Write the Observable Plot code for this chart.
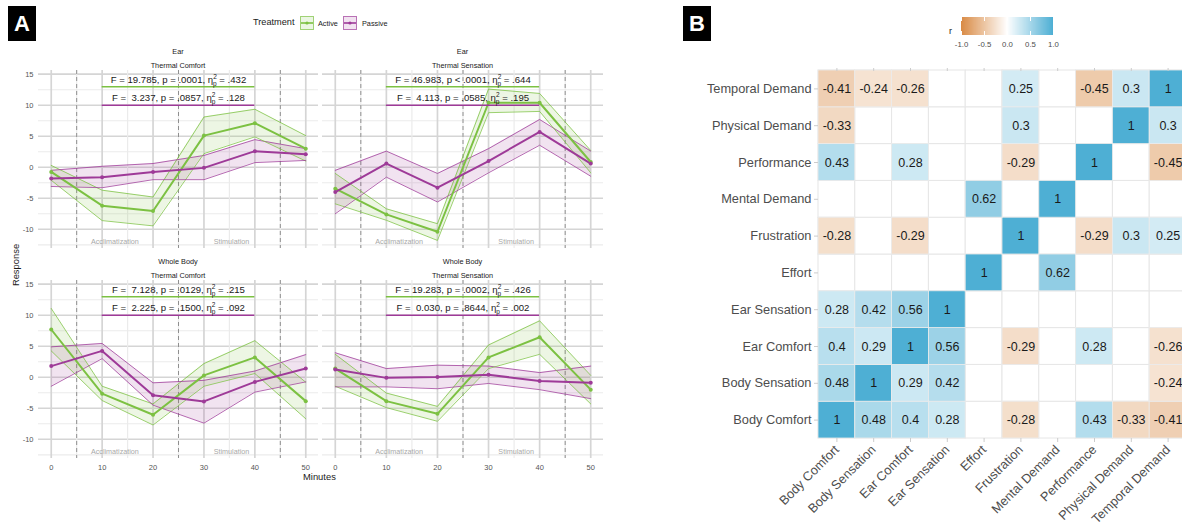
<!DOCTYPE html>
<html><head><meta charset="utf-8">
<script src="https://cdn.jsdelivr.net/npm/d3@7"></script>
<script src="https://cdn.jsdelivr.net/npm/@observablehq/plot@0.6"></script>
<style>
body{margin:0;background:#fff;overflow:hidden;font-family:"Liberation Sans",Arial,sans-serif}
#root{position:relative;width:1182px;height:527px;overflow:hidden;background:#fff}
.abs{position:absolute;white-space:nowrap}
#root text{white-space:pre}
.tag{position:absolute;background:#000;color:#fff;font-weight:bold;font-size:22px;display:flex;align-items:center;justify-content:center}
.strip{position:absolute;font-size:7.3px;color:#1a1a1a;transform:translate(-50%,-50%);white-space:nowrap}
</style></head><body><div id="root"></div>
<script>
// ---------- Panel A data ----------
const minutes = [0, 10, 20, 30, 40, 50];
const treatments = ["Active", "Passive"];
const facetRegion = ["Ear", "Ear", "Whole Body", "Whole Body"];
const facetMeasure = ["Thermal Comfort", "Thermal Sensation", "Thermal Comfort", "Thermal Sensation"];
const phaseLabels = ["Acclimatization", "Stimulation"];
const phaseCenters = [12.5, 35.4];
const phaseBreaks = [5, 25, 45];
const yMajor = [-10, -5, 0, 5, 10, 15];
const yMinor = [-12.5, -7.5, -2.5, 2.5, 7.5, 12.5];
const xMajor = [0, 10, 20, 30, 40, 50];
const xMinor = [5, 15, 25, 35, 45];

// Ear – Thermal Comfort
const etcActiveMean = [-0.75, -6.2, -7.05, 5.1, 7.1, 3.0];
const etcActiveLo   = [-2.1, -8.6, -9.45, 2.2, 4.9, 1.0];
const etcActiveHi   = [0.3, -3.7, -4.8, 8.1, 9.35, 5.1];
const etcPassiveMean = [-1.8, -1.6, -0.75, -0.1, 2.6, 2.1];
const etcPassiveLo   = [-3.1, -3.3, -2.0, -2.0, 0.75, 1.1];
const etcPassiveHi   = [-0.5, 0.15, 0.6, 1.9, 4.45, 3.0];
// Ear – Thermal Sensation
const etsActiveMean = [-3.45, -7.6, -10.4, 10.4, 10.4, 0.85];
const etsActiveLo   = [-5.9, -8.55, -11.8, 8.8, 9.0, -0.9];
const etsActiveHi   = [-1.0, -6.7, -9.1, 12.6, 11.9, 2.7];
const etsPassiveMean = [-4.0, 0.6, -3.3, 1.0, 5.7, 0.6];
const etsPassiveLo   = [-7.5, -1.6, -5.6, -0.9, 3.55, -1.45];
const etsPassiveHi   = [-0.5, 2.6, -1.0, 3.0, 7.7, 2.6];
// Whole Body – Thermal Comfort
const wtcActiveMean = [7.7, -2.65, -6.05, 0.3, 3.2, -3.85];
const wtcActiveLo   = [4.25, -3.75, -7.7, -1.45, 0.6, -6.7];
const wtcActiveHi   = [11.1, -1.45, -4.3, 2.2, 5.9, -0.8];
const wtcPassiveMean = [1.8, 4.25, -2.9, -3.9, -0.75, 1.4];
const wtcPassiveLo   = [-1.45, 3.0, -4.5, -7.4, -2.4, -0.75];
const wtcPassiveHi   = [4.9, 5.45, -0.9, -0.5, 1.0, 3.65];
// Whole Body – Thermal Sensation
const wtsActiveMean = [1.4, -3.85, -5.9, 3.2, 6.45, -2.0];
const wtsActiveLo   = [-1.45, -4.9, -7.1, 1.4, 3.7, -4.3];
const wtsActiveHi   = [3.7, -2.55, -4.7, 5.2, 9.1, 0.3];
const wtsPassiveMean = [1.25, -0.1, 0.05, 0.4, -0.6, -0.9];
const wtsPassiveLo   = [-1.55, -1.55, -1.85, -1.0, -2.0, -3.45];
const wtsPassiveHi   = [3.95, 1.4, 1.95, 1.8, 0.75, 1.8];

const activeStats = ["F = 19.785, p = .0001, ηₚ² = .432", "F = 46.983, p < .0001, ηₚ² = .644", "F =  7.128, p = .0129, ηₚ² = .215", "F = 19.283, p = .0002, ηₚ² = .426"];
const passiveStats = ["F =  3.237, p = .0857, ηₚ² = .128", "F =  4.113, p = .0585, ηₚ² = .195", "F =  2.225, p = .1500, ηₚ² = .092", "F =  0.030, p = .8644, ηₚ² = .002"];
const statLineY = [13, 10];
const statSpan = [10, 40];

// ---------- Panel B data ----------
const corrVars = ["Body Comfort", "Body Sensation", "Ear Comfort", "Ear Sensation", "Effort", "Frustration", "Mental Demand", "Performance", "Physical Demand", "Temporal Demand"];
const corrBodyComfort    = [1, 0.48, 0.4, 0.28, null, -0.28, null, 0.43, -0.33, -0.41];
const corrBodySensation  = [0.48, 1, 0.29, 0.42, null, null, null, null, null, -0.24];
const corrEarComfort     = [0.4, 0.29, 1, 0.56, null, -0.29, null, 0.28, null, -0.26];
const corrEarSensation   = [0.28, 0.42, 0.56, 1, null, null, null, null, null, null];
const corrEffort         = [null, null, null, null, 1, null, 0.62, null, null, null];
const corrFrustration    = [-0.28, null, -0.29, null, null, 1, null, -0.29, 0.3, 0.25];
const corrMentalDemand   = [null, null, null, null, 0.62, null, 1, null, null, null];
const corrPerformance    = [0.43, null, 0.28, null, null, -0.29, null, 1, null, -0.45];
const corrPhysicalDemand = [-0.33, null, null, null, null, 0.3, null, null, 1, 0.3];
const corrTemporalDemand = [-0.41, -0.24, -0.26, null, null, 0.25, null, -0.45, 0.3, 1];
const legendTicks = [-1, -0.5, 0, 0.5, 1];

// ---------- build ----------
const GREEN = "#7cc142", MAG = "#9e3a98";
const FONT = "Liberation Sans, Arial, sans-serif";
const root = document.getElementById("root");
const NS = "http://www.w3.org/2000/svg";

function place(el, left, top) {
  el.style.position = "absolute"; el.style.left = left + "px"; el.style.top = top + "px";
  root.appendChild(el); return el;
}
function html(txt, left, top, css) {
  const d = document.createElement("div"); d.className = "abs"; d.textContent = txt;
  Object.assign(d.style, css || {}); return place(d, left, top);
}
function fixEta(svg) {
  svg.querySelectorAll("text").forEach(t => {
    const s = t.textContent; const i = s.indexOf("η");
    if (i < 0) return;
    const pre = s.slice(0, i + 1), post = s.slice(i + 3);
    t.textContent = "";
    const add = (txt, attrs) => { const e = document.createElementNS(NS, "tspan"); e.textContent = txt; for (const k in attrs) e.setAttribute(k, attrs[k]); t.appendChild(e); };
    add(pre, {});
    add("2", {dy: "-4", "font-size": "6.5"});
    add("p", {dx: "-3.7", dy: "7", "font-size": "6.5"});
    add(post, {dy: "-3"});
  });
}

const facetData = [
  [etcActiveMean, etcActiveLo, etcActiveHi, etcPassiveMean, etcPassiveLo, etcPassiveHi],
  [etsActiveMean, etsActiveLo, etsActiveHi, etsPassiveMean, etsPassiveLo, etsPassiveHi],
  [wtcActiveMean, wtcActiveLo, wtcActiveHi, wtcPassiveMean, wtcPassiveLo, wtcPassiveHi],
  [wtsActiveMean, wtsActiveLo, wtsActiveHi, wtsPassiveMean, wtsPassiveLo, wtsPassiveHi]
];
const facetBox = [
  {left: 0, top: 70, width: 318, ml: 38, showY: true, showX: false},
  {left: 322, top: 70, width: 281, ml: 0, showY: false, showX: false},
  {left: 0, top: 280, width: 318, ml: 38, showY: true, showX: true},
  {left: 322, top: 280, width: 281, ml: 0, showY: false, showX: true}
];

facetData.forEach((fd, k) => {
  const b = facetBox[k];
  const rows = [];
  minutes.forEach((m, i) => {
    rows.push({m, trt: "Active", mean: fd[0][i], lo: fd[1][i], hi: fd[2][i]});
    rows.push({m, trt: "Passive", mean: fd[3][i], lo: fd[4][i], hi: fd[5][i]});
  });
  const stats = [
    {trt: "Active", y: statLineY[0], label: activeStats[k]},
    {trt: "Passive", y: statLineY[1], label: passiveStats[k]}
  ];
  const phases = phaseLabels.map((t, i) => ({t, x: phaseCenters[i]}));
  const marks = [
    Plot.ruleY(yMinor, {stroke: "#ebebeb", strokeWidth: 1.2}),
    Plot.ruleY(yMajor, {stroke: "#d5d5d5", strokeWidth: 1.7}),
    Plot.ruleX(xMinor, {stroke: "#ebebeb", strokeWidth: 1.2}),
    Plot.ruleX(xMajor, {stroke: "#d5d5d5", strokeWidth: 1.7}),
    Plot.ruleX(phaseBreaks, {stroke: "#8f8f8f", strokeWidth: 1, strokeDasharray: "4,3"}),
    Plot.text(phases, {x: "x", y: -12, text: "t", fill: "#a8a8a8", fontSize: 7.2}),
    Plot.areaY(rows, {x: "m", y1: "lo", y2: "hi", fill: "trt", fillOpacity: 0.14}),
    Plot.line(rows, {x: "m", y: "hi", stroke: "trt", strokeWidth: 0.9, strokeOpacity: 0.85}),
    Plot.line(rows, {x: "m", y: "lo", stroke: "trt", strokeWidth: 0.9, strokeOpacity: 0.85}),
    Plot.line(rows, {x: "m", y: "mean", stroke: "trt", strokeWidth: 2}),
    Plot.dot(rows, {x: "m", y: "mean", fill: "trt", r: 2}),
    Plot.ruleY(stats, {y: "y", x1: statSpan[0], x2: statSpan[1], stroke: "trt", strokeWidth: 1.5}),
    Plot.text(stats, {x: (statSpan[0] + statSpan[1]) / 2, y: "y", dy: -7, text: "label", fontSize: 9.6, fill: "#1a1a1a"}),
    b.showY ? Plot.axisY({ticks: yMajor, tickSize: 0, tickPadding: 5, fontSize: 7.5, color: "#555", tickFormat: d => String(d), label: null}) : null,
    b.showX ? Plot.axisX({ticks: xMajor, tickSize: 0, tickPadding: 6, fontSize: 7.5, color: "#555", tickFormat: d => String(d), label: null}) : null
  ].filter(Boolean);
  const svg = Plot.plot({
    width: b.width, height: 178 + (b.showX ? 20 : 0),
    marginLeft: b.ml, marginRight: 0, marginTop: 0, marginBottom: b.showX ? 20 : 0,
    x: {domain: [-2.5, 52.5], axis: null},
    y: {domain: [-13.1, 15.6], axis: null},
    color: {domain: treatments, range: [GREEN, MAG]},
    style: {fontFamily: FONT, fontSize: "8px", background: "transparent", overflow: "visible"},
    marks
  });
  fixEta(svg);
  place(svg, b.left, b.top);
  const cx = b.left + b.ml + (b.width - b.ml) / 2;
  const s1 = document.createElement("div"); s1.className = "strip"; s1.textContent = facetRegion[k]; s1.style.left = cx + "px"; s1.style.top = (b.top - 19) + "px"; root.appendChild(s1);
  const s2 = document.createElement("div"); s2.className = "strip"; s2.textContent = facetMeasure[k]; s2.style.left = cx + "px"; s2.style.top = (b.top - 5) + "px"; root.appendChild(s2);
});

// Panel A labels & legend
const tagA = document.createElement("div"); tagA.className = "tag"; tagA.textContent = "A";
Object.assign(tagA.style, {left: "8px", top: "6px", width: "28px", height: "35px"}); root.appendChild(tagA);
html("Minutes", 303, 471, {fontSize: "9.4px", color: "#1a1a1a"});
html("Response", 15, 265, {fontSize: "9.4px", color: "#1a1a1a", transform: "translate(-50%,-50%) rotate(-90deg)"});
html("Treatment", 253, 17, {fontSize: "9.2px", color: "#1a1a1a"});
function legendKey(color, left) {
  const s = document.createElementNS(NS, "svg"); s.setAttribute("width", 14); s.setAttribute("height", 14);
  s.innerHTML = `<rect x="0.5" y="0.5" width="13" height="13" fill="${color}" fill-opacity="0.15" stroke="${color}" stroke-opacity="0.7"/>` +
    `<line x1="1" x2="13" y1="7" y2="7" stroke="${color}" stroke-width="1.6"/><circle cx="7" cy="7" r="1.6" fill="${color}"/>`;
  place(s, left, 16);
}
legendKey(GREEN, 300); html("Active", 318, 19, {fontSize: "7.3px", color: "#1a1a1a"});
legendKey(MAG, 343); html("Passive", 362, 19, {fontSize: "7.3px", color: "#1a1a1a"});

// ---------- Panel B ----------
const tagB = document.createElement("div"); tagB.className = "tag"; tagB.textContent = "B";
Object.assign(tagB.style, {left: "683px", top: "6px", width: "28px", height: "35px"}); root.appendChild(tagB);

const corrMatrix = [corrBodyComfort, corrBodySensation, corrEarComfort, corrEarSensation, corrEffort, corrFrustration, corrMentalDemand, corrPerformance, corrPhysicalDemand, corrTemporalDemand];
const allCells = [], valCells = [];
corrVars.forEach((rv, i) => corrVars.forEach((cv, j) => {
  allCells.push({row: rv, col: cv});
  const r = corrMatrix[i][j];
  if (r != null) valCells.push({row: rv, col: cv, r});
}));
const colorOpts = {type: "linear", domain: [-1, 0, 1], range: ["#d98b45", "#ffffff", "#4eafd4"]};
const heat = Plot.plot({
  width: 496, height: 467, marginLeft: 128, marginRight: 0, marginTop: 10, marginBottom: 89,
  x: {domain: corrVars, padding: 0, round: false, axis: null},
  y: {domain: corrVars.slice().reverse(), padding: 0, round: false, axis: null},
  color: colorOpts,
  style: {fontFamily: FONT, fontSize: "12.8px", background: "transparent", overflow: "visible"},
  marks: [
    Plot.cell(allCells, {x: "col", y: "row", fill: "white", stroke: "#e6e6e6", strokeWidth: 1}),
    Plot.cell(valCells, {x: "col", y: "row", fill: "r", stroke: "#ececec", strokeWidth: 0.8}),
    Plot.text(valCells, {x: "col", y: "row", text: d => String(d.r), fontSize: 12.5, fill: "#1a1a1a"}),
    Plot.axisX({anchor: "top", tickSize: 3, stroke: "#cccccc", fill: "none", tickFormat: () => "", label: null}),
    Plot.axisX({anchor: "bottom", tickSize: 4, tickPadding: 5, tickRotate: -45, stroke: "#cccccc", fill: "#4d4d4d", fontSize: 12.8, label: null}),
    Plot.axisY({anchor: "left", tickSize: 4, tickPadding: 3, stroke: "#cccccc", fill: "#4d4d4d", fontSize: 12.8, label: null})
  ]
});
place(heat, 690, 60);

const leg = Plot.legend({
  color: colorOpts, width: 110, height: 32, marginLeft: 9, marginRight: 9, marginTop: 0, marginBottom: 14,
  ticks: legendTicks, tickFormat: d => d.toFixed(1), tickSize: 3, label: null,
  style: {fontFamily: FONT, fontSize: "7.8px", color: "#4d4d4d", background: "transparent", overflow: "visible"}
});
leg.querySelectorAll("line").forEach(l => { l.setAttribute("stroke", "#ffffff"); l.setAttribute("stroke-dasharray", "4,10,4,20"); });
place(leg, 952, 17);
html("r", 949, 26, {fontSize: "9px", color: "#1a1a1a"});
</script></body></html>
